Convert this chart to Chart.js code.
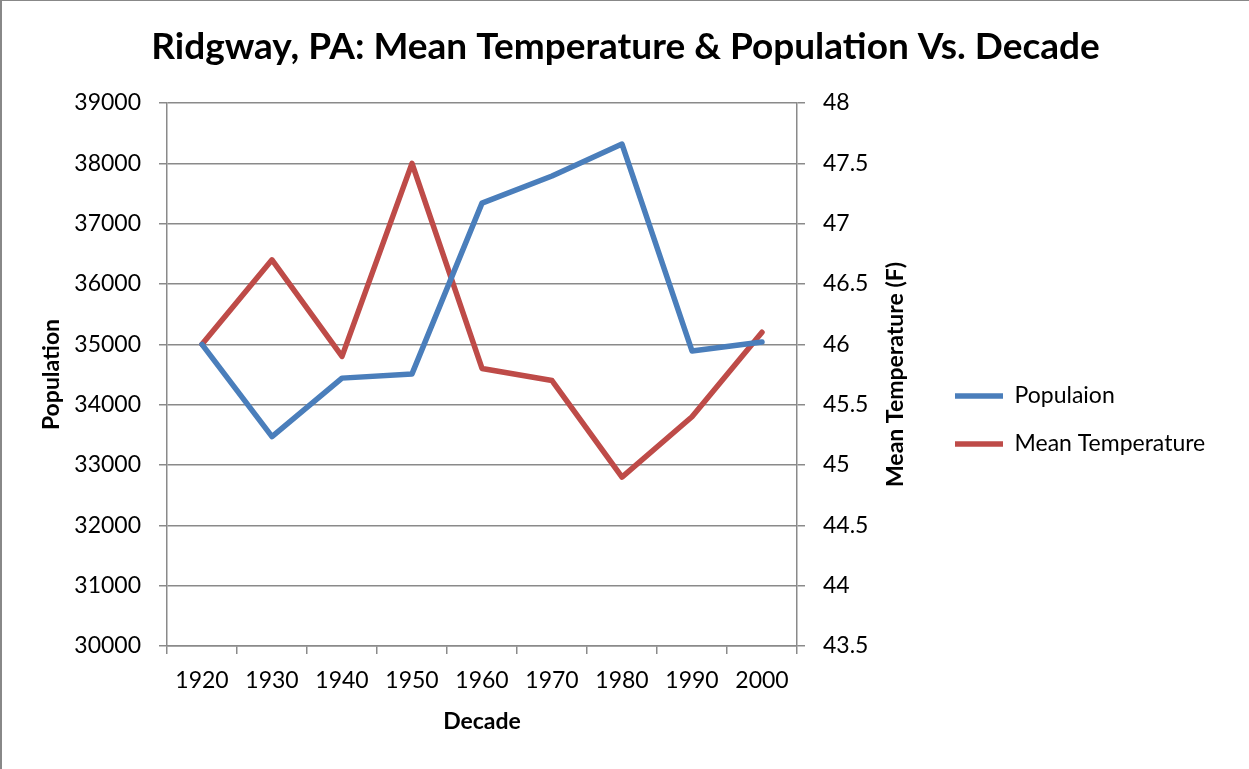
<!DOCTYPE html>
<html>
<head>
<meta charset="utf-8">
<script src="https://cdn.jsdelivr.net/npm/chart.js@4"></script>
<style>
  html, body { margin: 0; padding: 0; background: #fff; }
  #wrap {
    width: 1247px; height: 768px;
    border-top: 1px solid #888;
    border-left: 2px solid #888;
    background: #fff;
  }
</style>
</head>
<body>
<div id="wrap"><canvas id="chart1" width="1247" height="768"></canvas></div>
<script>
// data
const decades = ['1920', '1930', '1940', '1950', '1960', '1970', '1980', '1990', '2000'];
const population = [35000, 33470, 34440, 34510, 37340, 37790, 38320, 34890, 35040];
const meanTemp = [46.0, 46.7, 45.9, 47.5, 45.8, 45.7, 44.9, 45.4, 46.1];

const popAxis = [30000, 39000, 1000];   // min, max, step
const tempAxis = [43.5, 48, 0.5];
const rightTitle = 'Mean Temperature (F)';

const gridGray = '#8a8a8a';
const fontFam = 'Lato, "Open Sans", sans-serif';
const legendLeft = 928;

// right axis title reads bottom-to-top like excel
const rightTitlePlugin = {
    id: 'rightTitle',
    afterDraw(chart) {
        const s = chart.scales.y1;
        const ctx = chart.ctx;
        ctx.save();
        ctx.translate(s.right - 34, (s.top + s.bottom) / 2);
        ctx.rotate(-Math.PI / 2);
        ctx.font = 'bold 23px ' + fontFam;
        ctx.fillStyle = '#000';
        ctx.textAlign = 'center';
        ctx.textBaseline = 'middle';
        ctx.fillText(rightTitle, 0, 0);
        ctx.restore();
    }
};

const cfg = {
    type: 'line',
    data: {
        labels: decades,
        datasets: [{
            label: 'Populaion',
            data: population,
            yAxisID: 'y',
            borderColor: '#4a7ebb',
            backgroundColor: '#4a7ebb',
            borderWidth: 5.5,
            pointRadius: 0,
            tension: 0,
            borderCapStyle: 'round',
            borderJoinStyle: 'round'
        }, {
            label: 'Mean Temperature',
            data: meanTemp,
            yAxisID: 'y1',
            borderColor: '#be4b48',
            backgroundColor: '#be4b48',
            borderWidth: 5.5,
            pointRadius: 0,
            tension: 0,
            borderCapStyle: 'round',
            borderJoinStyle: 'round'
        }]
    },
    options: {
        responsive: false,
        animation: false,
        layout: { padding: { left: 0, right: 30, top: 0, bottom: 0 } },
        plugins: {
            title: {
                display: true,
                text: 'Ridgway, PA: Mean Temperature & Population Vs. Decade',
                color: '#000',
                font: { family: fontFam, size: 37, weight: 'bold' },
                padding: { top: 24, bottom: 33.6 }
            },
            legend: {
                position: 'right',
                maxWidth: 300,
                title: { display: true, text: '', font: { size: 10 }, padding: 29 },
                labels: {
                    color: '#000',
                    font: { family: fontFam, size: 23 },
                    usePointStyle: true,
                    pointStyle: 'line',
                    pointStyleWidth: 48,
                    padding: 25
                }
            },
            tooltip: { enabled: false }
        },
        scales: {
            x: {
                type: 'category',
                offset: true,
                afterFit: (s) => { s.height = 123; },
                grid: { offset: true, drawOnChartArea: false, drawTicks: true, tickLength: 8, color: gridGray, lineWidth: 1.5 },
                border: { color: gridGray, width: 1.5 },
                ticks: { color: '#000', font: { family: fontFam, size: 23 }, padding: 13, maxRotation: 0 },
                title: { display: true, text: 'Decade', color: '#000', font: { family: fontFam, size: 23, weight: 'bold' }, padding: { top: 0, bottom: 34 } }
            },
            y: {
                position: 'left',
                min: popAxis[0], max: popAxis[1],
                afterFit: (s) => { s.width = 165 - s.chart.options.layout.padding.left; },
                grid: { color: gridGray, lineWidth: 1.5, drawTicks: true, tickLength: 8 },
                border: { color: gridGray, width: 1.5 },
                ticks: { stepSize: popAxis[2], color: '#000', font: { family: fontFam, size: 23 }, padding: 18,
                    callback: (v) => String(v) },
                title: { display: true, text: 'Population', color: '#000', font: { family: fontFam, size: 23, weight: 'bold' }, padding: { top: 36, bottom: 0 } }
            },
            y1: {
                position: 'right',
                min: tempAxis[0], max: tempAxis[1],
                afterFit: (s) => { s.width = 133; },
                grid: { drawOnChartArea: false, color: gridGray, lineWidth: 1.5, drawTicks: true, tickLength: 8 },
                border: { color: gridGray, width: 1.5 },
                ticks: { stepSize: tempAxis[2], color: '#000', font: { family: fontFam, size: 23 }, padding: 18,
                    callback: (v) => String(Math.round(v * 10) / 10) },
                title: { display: false }
            }
        }
    },
    plugins: [rightTitlePlugin]
};

const graf = new Chart(document.getElementById('chart1'), cfg);
// keep the legend where it sits in the picture, whatever its measured width,
// and pad the left by the same amount so the title stays centred on the page
const sidePad = Math.max(0, Math.min(36, 1247 - legendLeft - graf.legend.width));
graf.options.layout.padding = { left: sidePad, right: sidePad, top: 0, bottom: 0 };
graf.options.scales.y.title.padding = { top: 36 - sidePad, bottom: 0 };
graf.update();
</script>
</body>
</html>
